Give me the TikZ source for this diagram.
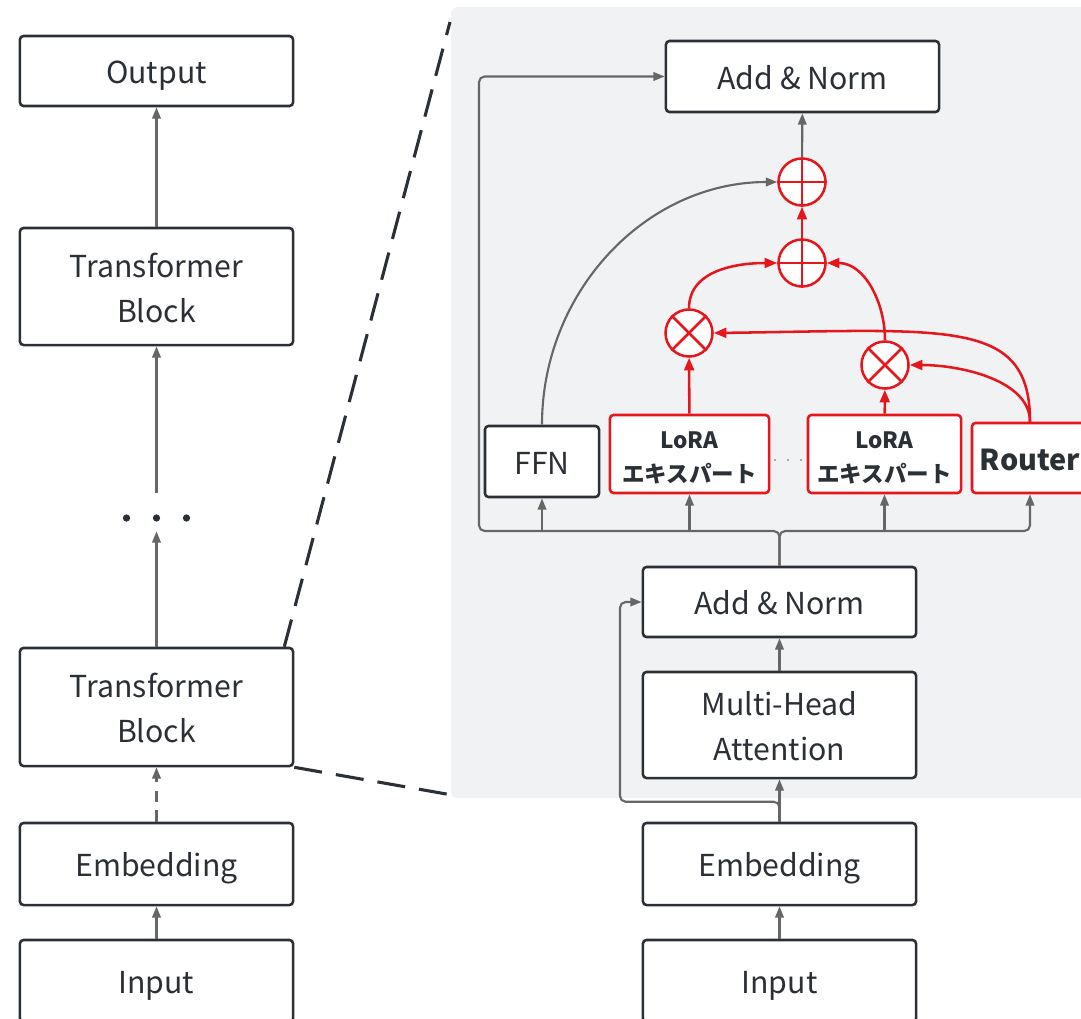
\documentclass[tikz,border=0pt]{standalone}
\usepackage{fontspec}
\setmainfont{Noto Sans CJK JP}
\usetikzlibrary{arrows.meta,positioning,calc}
\definecolor{ink}{HTML}{2B2F36}
\definecolor{arrowgray}{HTML}{666666}
\definecolor{hotred}{HTML}{E5161C}
\definecolor{pane}{HTML}{F1F2F4}

\begin{document}
\begin{tikzpicture}[x=0.025cm, y=0.025cm,
    main/.style={draw=ink, line width=1.8pt, rounded corners=2.5pt, fill=white, text=ink,
        minimum width=6.825cm, inner sep=2pt, align=center, font=\fontsize{21.5}{32}\selectfont},
    oneline/.style={main, text height=20.4pt, text depth=2.3pt},
    expert/.style={main, draw=hotred, minimum height=1.95cm, font=\fontsize{16}{24}\selectfont\bfseries},
    op/.style={circle, draw=hotred, line width=1.8pt, fill=white, minimum size=1.175cm, inner sep=0pt},
    link/.style={draw=arrowgray, line width=1.5pt, -{Triangle[length=8pt,width=6pt]}},
    hotlink/.style={draw=hotred, line width=1.8pt, -{Triangle[length=9pt,width=7pt]}},
    zoomline/.style={draw=ink, line width=2.2pt, dash pattern=on 20pt off 10pt}]
    \clip (0,0) rectangle (1081,-1019);
    \fill[pane, rounded corners=4pt] (451,-7) rectangle (1100,-798);

    % left column
    \node[oneline, minimum height=1.75cm] (out) at (156.5,-71) {Output};
    \node[main, minimum height=2.925cm] (tb2) at (156.5,-286.5) {\rule{0pt}{19pt}Transformer\\Block};
    \node[minimum width=2.5cm, minimum height=0.95cm, inner sep=0pt] (dots) at (156.5,-512) {};
    \node[main, minimum height=2.95cm] (tb1) at (156.5,-707) {\rule{0pt}{19pt}Transformer\\Block};
    \node[oneline, minimum height=2.05cm] (emb1) at (156.5,-864) {Embedding};
    \node[oneline, minimum height=2.05cm] (in1) at (156.5,-981) {Input};
    \foreach \dx in {-30,0,30}
        \fill[ink] (156.5+\dx,-518) circle (2.6pt);

    % right column
    \node[oneline, minimum height=2.05cm] (in2) at (779.5,-981) {Input};
    \node[oneline, minimum height=2.05cm] (emb2) at (779.5,-864) {Embedding};
    \node[main, minimum height=2.65cm] (mha) at (779.5,-725) {\rule{0pt}{19pt}Multi-Head\\Attention};
    \node[oneline, minimum height=1.75cm] (an1) at (779.5,-602) {Add \& Norm};
    \node[oneline, minimum height=1.775cm] (an2) at (802.5,-76.5) {Add \& Norm};

    % experts
    \node[oneline, minimum width=2.85cm, minimum height=1.775cm] (ffn) at (542,-461.5) {FFN};
    \node[expert, minimum width=3.975cm] (lora1) at (689.5,-454) {\rule{0pt}{17.5pt}LoRA\\エキスパート};
    \node[expert, minimum width=3.825cm] (lora2) at (884.5,-454) {\rule{0pt}{17.5pt}LoRA\\エキスパート};
    \node[oneline, draw=hotred, minimum width=2.9cm, minimum height=1.75cm,
        font=\fontsize{20.5}{32}\selectfont\bfseries] (router) at (1030,-458) {Router};
    \foreach \x in {775,788,801}
        \fill[arrowgray] (\x,-460) circle (0.7pt);

    \node[op] (p2) at (802,-182) {};
    \node[op] (p1) at (802,-263) {};
    \node[op] (m1) at (689,-333) {};
    \node[op] (m2) at (885,-365) {};
    \foreach \n in {p1,p2}
        \draw[hotred, line width=1.8pt] (\n.north) -- (\n.south) (\n.west) -- (\n.east);
    \foreach \n in {m1,m2}
        \draw[hotred, line width=1.8pt] (\n.north east) -- (\n.south west) (\n.north west) -- (\n.south east);

    % left connectors
    \draw[link] (tb2) -- (out);
    \draw[link] (dots.north) -- (tb2);
    \draw[link] (tb1) -- (dots.south);
    \draw[link, dash pattern=on 8pt off 6pt] (emb1) -- (tb1);
    \draw[link] (in1) -- (emb1);
    \draw[zoomline] ($(tb1.north east)+(-10,0)$) -- (450,-22);
    \draw[zoomline] (tb1.south east) -- (452,-795);

    % right connectors
    \coordinate (res) at (620,-602);
    \coordinate (busl) at (479,-531);
    \coordinate (busr) at (1030,-531);
    \draw[link] (in2) -- (emb2);
    \draw[link] (emb2) -- (mha);
    \draw[link] (mha) -- (an1);
    \draw[link, rounded corners=4pt] (emb2.north) -- ++(0,20) -| (res) -- (an1.west);
    \draw[link, rounded corners=4pt] (an1.north) |- (busl) |- (an2.west);
    \draw[link, rounded corners=4pt] (an1.north) |- (busr) -- (router.south);
    \foreach \n in {ffn,lora1,lora2}
        \draw[link] (\n.south |- busl) -- (\n.south);

    % mixing
    \draw[link] (ffn.north) to[out=90, in=180] (p2.west);
    \draw[hotlink] (p1) -- (p2);
    \draw[link] (p2) -- (an2);
    \draw[hotlink] (lora1) -- (m1);
    \draw[hotlink] (lora2) -- (m2);
    \draw[hotlink] (m1.north) to[out=90, in=180] (p1.west);
    \draw[hotlink] (m2.north) to[out=90, in=0] (p1.east);
    \draw[hotlink] (router.north) .. controls (1030,-318) and (950,-330) .. (m1.east);
    \draw[hotlink] (router.north) .. controls (1030,-380) and (960,-365) .. (m2.east);
\end{tikzpicture}
\end{document}
